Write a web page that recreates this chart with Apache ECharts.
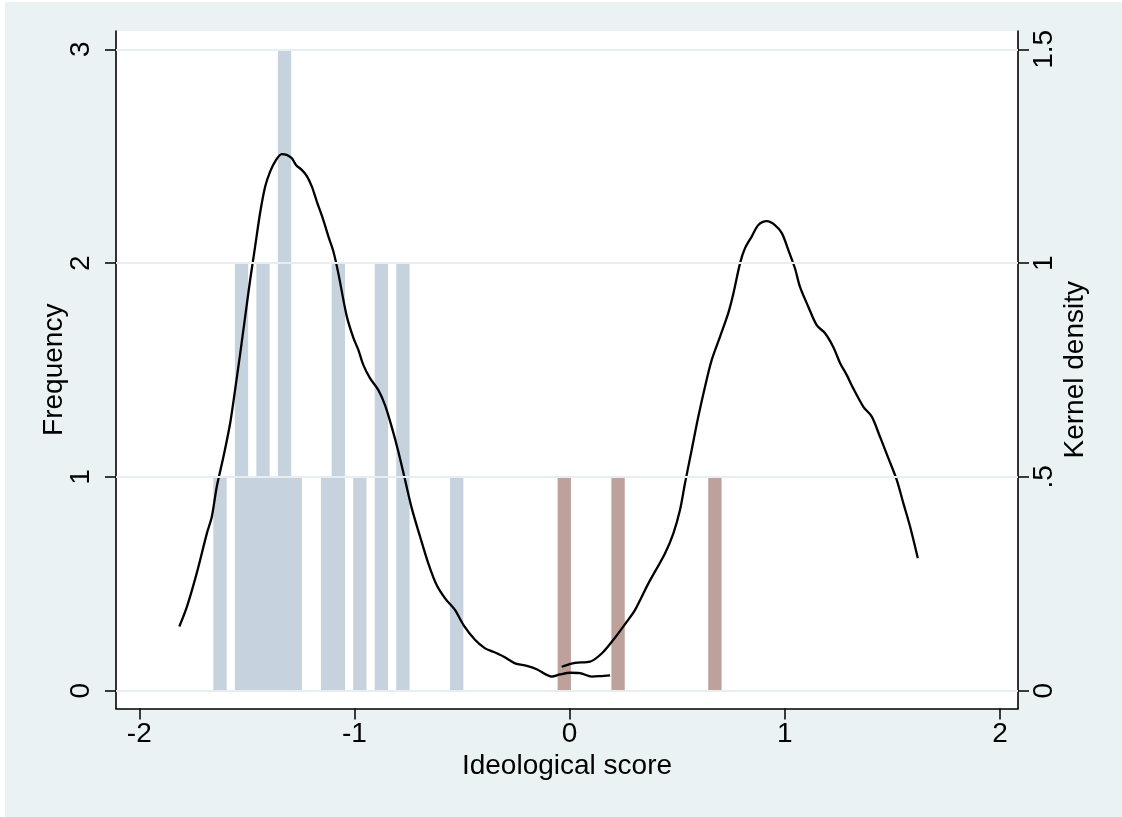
<!DOCTYPE html>
<html>
<head>
<meta charset="utf-8">
<title>Ideological score distribution</title>
<script src="https://cdn.jsdelivr.net/npm/echarts@6/dist/echarts.min.js"></script>
<style>
  html, body { margin: 0; padding: 0; background: #ffffff; }
  #chart { width: 1122px; height: 817px; }
</style>
</head>
<body>
<div id="chart"></div>
<script>
// Histogram bins (bin centres) and counts, group 1
const groupABins = [-1.625, -1.525, -1.475, -1.425, -1.375, -1.325, -1.275, -1.125, -1.075, -0.975, -0.875, -0.775, -0.525];
const groupAFreq = [1, 2, 1, 2, 1, 3, 1, 1, 2, 1, 2, 2, 1];

// Histogram bins (bin centres) and counts, group 2
const groupBBins = [-0.025, 0.225, 0.675];
const groupBFreq = [1, 1, 1];

// Kernel density estimate, group 1
const densityAX = [-1.814, -1.779, -1.733, -1.686, -1.663, -1.640, -1.609, -1.578, -1.555, -1.531, -1.508, -1.485, -1.462, -1.439, -1.415, -1.392, -1.365, -1.338, -1.315, -1.291, -1.271, -1.245, -1.222, -1.198, -1.175, -1.145, -1.121, -1.098, -1.075, -1.036, -1.005, -0.982, -0.959, -0.928, -0.889, -0.858, -0.827, -0.796, -0.765, -0.734, -0.695, -0.657, -0.618, -0.579, -0.533, -0.494, -0.440, -0.393, -0.355, -0.308, -0.254, -0.199, -0.153, -0.083, -0.045, 0.002, 0.048, 0.103, 0.141, 0.188];
const densityAY = [0.150, 0.196, 0.275, 0.368, 0.407, 0.477, 0.547, 0.625, 0.703, 0.789, 0.875, 0.960, 1.038, 1.116, 1.179, 1.214, 1.241, 1.255, 1.253, 1.245, 1.229, 1.218, 1.204, 1.179, 1.144, 1.101, 1.062, 1.027, 0.976, 0.876, 0.825, 0.797, 0.762, 0.731, 0.703, 0.668, 0.617, 0.559, 0.493, 0.427, 0.360, 0.298, 0.247, 0.216, 0.189, 0.154, 0.119, 0.099, 0.091, 0.080, 0.064, 0.058, 0.050, 0.033, 0.038, 0.042, 0.041, 0.033, 0.034, 0.036];

// Kernel density estimate, group 2
const densityBX = [-0.037, 0.025, 0.095, 0.149, 0.203, 0.265, 0.304, 0.366, 0.443, 0.482, 0.513, 0.536, 0.567, 0.598, 0.629, 0.660, 0.699, 0.737, 0.761, 0.792, 0.815, 0.846, 0.877, 0.916, 0.954, 0.986, 1.016, 1.047, 1.070, 1.109, 1.148, 1.187, 1.225, 1.257, 1.288, 1.318, 1.365, 1.404, 1.442, 1.481, 1.520, 1.551, 1.582, 1.618];
const densityBY = [0.056, 0.065, 0.068, 0.087, 0.119, 0.161, 0.189, 0.251, 0.321, 0.368, 0.423, 0.485, 0.563, 0.641, 0.711, 0.773, 0.828, 0.883, 0.929, 1.000, 1.035, 1.062, 1.089, 1.098, 1.089, 1.070, 1.031, 0.988, 0.945, 0.898, 0.855, 0.836, 0.804, 0.766, 0.738, 0.707, 0.664, 0.641, 0.594, 0.544, 0.493, 0.438, 0.384, 0.310];

// Axis ticks and their labels
const xTicks = [-2, -1, 0, 1, 2];
const xTickLabels = ['-2', '-1', '0', '1', '2'];
const freqTicks = [0, 1, 2, 3];
const freqTickLabels = ['0', '1', '2', '3'];
const densTicks = [0, 0.5, 1, 1.5];
const densTickLabels = ['0', '.5', '1', '1.5'];

// Drawing constants
const BAR_WIDTH = 0.062;
const FONT = "'Liberation Sans', Arial, Helvetica, sans-serif";
const BG = '#EAF2F3';
const COLOR_A = '#C6D3DF';
const COLOR_B = '#BFA19C';

const zip = (xs, ys) => xs.map((x, i) => [x, ys[i]]);
const labelFor = (ticks, labels) => (v) => {
  const i = ticks.findIndex(t => Math.abs(t - v) < 1e-9);
  return i >= 0 ? labels[i] : '';
};

function barRenderer(color) {
  return function (params, api) {
    const c = api.value(0);
    const h = api.value(1);
    const p0 = api.coord([c - BAR_WIDTH / 2, h]);
    const p1 = api.coord([c + BAR_WIDTH / 2, 0]);
    return {
      type: 'rect',
      shape: { x: p0[0], y: p0[1], width: p1[0] - p0[0], height: p1[1] - p0[1] },
      style: { fill: color }
    };
  };
}

const axisText = { color: '#000', fontFamily: FONT, fontSize: 28 };
const axisLineStyle = { show: true, lineStyle: { color: '#000', width: 1.6 } };
const tickStyle = { show: true, length: 11, lineStyle: { color: '#000', width: 1.5 } };

const chart = echarts.init(document.getElementById('chart'), null, { renderer: 'canvas' });

chart.setOption({
  backgroundColor: BG,
  animation: false,
  graphic: [
    { type: 'rect', left: 0, top: 0, shape: { width: 1122, height: 2 }, style: { fill: '#ffffff' }, silent: true },
    { type: 'rect', left: 0, top: 0, shape: { width: 5, height: 817 }, style: { fill: '#ffffff' }, silent: true }
  ],
  grid: {
    left: 116, top: 31, width: 902, height: 677.5,
    show: true, backgroundColor: '#ffffff', borderWidth: 0
  },
  xAxis: {
    type: 'value',
    min: -2.1083, max: 2.0836,
    name: 'Ideological score',
    nameLocation: 'middle',
    nameGap: 44,
    nameMoveOverlap: false,
    nameTextStyle: axisText,
    axisLine: { ...axisLineStyle, onZero: false },
    axisTick: { ...tickStyle, customValues: xTicks },
    axisLabel: { ...axisText, margin: 12, customValues: xTicks, formatter: labelFor(xTicks, xTickLabels) },
    splitLine: { show: false }
  },
  yAxis: [
    {
      type: 'value',
      position: 'left',
      min: -0.0833, max: 3.0856,
      name: 'Frequency',
      nameLocation: 'middle',
      nameGap: 48,
      nameMoveOverlap: false,
      nameTextStyle: axisText,
      axisLine: { ...axisLineStyle, onZero: false },
      axisTick: { ...tickStyle, customValues: freqTicks },
      axisLabel: { ...axisText, rotate: 90, margin: 21, customValues: freqTicks, formatter: labelFor(freqTicks, freqTickLabels) },
      splitLine: { show: false }
    },
    {
      type: 'value',
      position: 'right',
      min: -0.04165, max: 1.5428,
      name: 'Kernel density',
      nameLocation: 'middle',
      nameGap: 43,
      nameMoveOverlap: false,
      nameTextStyle: axisText,
      axisLine: { ...axisLineStyle, onZero: false },
      axisTick: { ...tickStyle, customValues: densTicks },
      axisLabel: { ...axisText, rotate: 90, margin: 12, customValues: densTicks, formatter: labelFor(densTicks, densTickLabels) },
      splitLine: { show: false }
    }
  ],
  series: [
    {
      // horizontal grid lines at the frequency ticks
      type: 'line',
      data: [],
      yAxisIndex: 0,
      z: 1,
      silent: true,
      markLine: {
        silent: true,
        symbol: ['none', 'none'],
        label: { show: false },
        lineStyle: { color: '#E6EEF1', width: 2, type: 'solid' },
        data: freqTicks.map(v => ({ yAxis: v }))
      }
    },
    {
      type: 'custom',
      name: 'Group 1',
      yAxisIndex: 0,
      z: 2,
      encode: { x: 0, y: 1 },
      renderItem: barRenderer(COLOR_A),
      data: zip(groupABins, groupAFreq)
    },
    {
      type: 'custom',
      name: 'Group 2',
      yAxisIndex: 0,
      z: 2,
      encode: { x: 0, y: 1 },
      renderItem: barRenderer(COLOR_B),
      data: zip(groupBBins, groupBFreq)
    },
    {
      type: 'line',
      name: 'Density 1',
      yAxisIndex: 1,
      z: 3,
      showSymbol: false,
      smooth: 0.3,
      lineStyle: { color: '#000', width: 2.3 },
      data: zip(densityAX, densityAY)
    },
    {
      type: 'line',
      name: 'Density 2',
      yAxisIndex: 1,
      z: 3,
      showSymbol: false,
      smooth: 0.3,
      lineStyle: { color: '#000', width: 2.3 },
      data: zip(densityBX, densityBY)
    }
  ]
});
</script>
</body>
</html>
